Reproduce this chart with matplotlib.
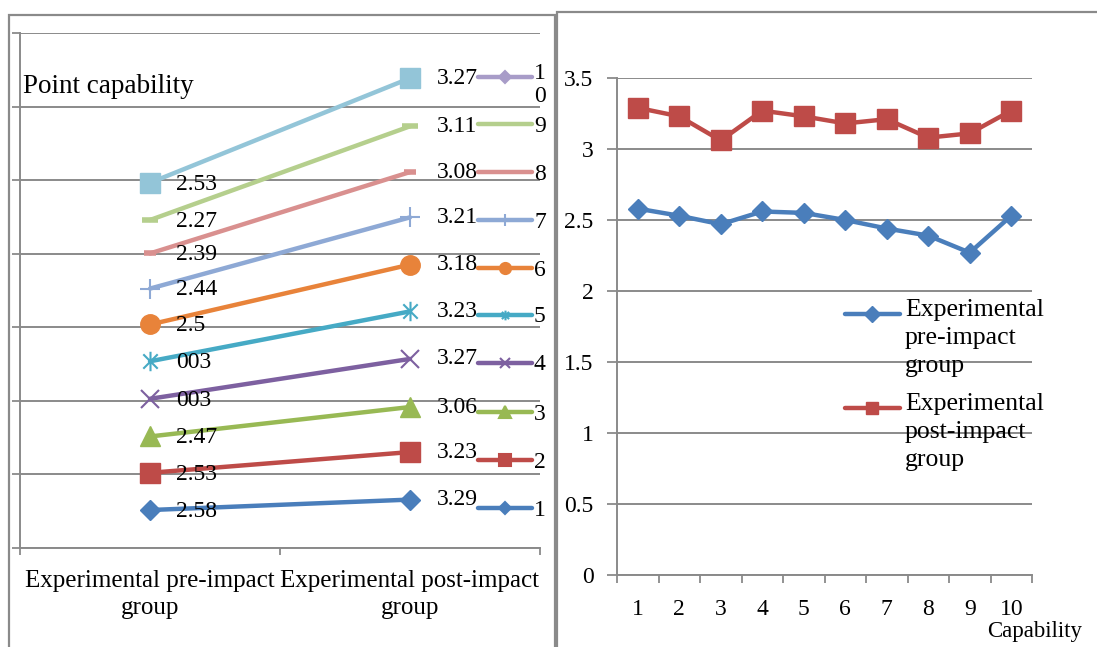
import numpy as np
import matplotlib
matplotlib.use('Agg')
import matplotlib.pyplot as plt
from matplotlib.lines import Line2D
from matplotlib.patches import Rectangle
from matplotlib.path import Path

plt.rcParams['font.family'] = ['Liberation Serif', 'DejaVu Serif']

# ---------------- data ----------------
capability = [1, 2, 3, 4, 5, 6, 7, 8, 9, 10]
pre = [2.58, 2.53, 2.47, 2.56, 2.55, 2.50, 2.44, 2.39, 2.27, 2.53]
post = [3.29, 3.23, 3.06, 3.27, 3.23, 3.18, 3.21, 3.08, 3.11, 3.27]
pre_labels = ['2.58', '2.53', '2.47', '003', '003', '2.5', '2.44', '2.39', '2.27', '2.53']
post_labels = ['3.29', '3.23', '3.06', '3.27', '3.23', '3.18', '3.21', '3.08', '3.11', '3.27']
groups = ['Experimental pre-impact\ngroup', 'Experimental post-impact\ngroup']
series_names = ['1', '2', '3', '4', '5', '6', '7', '8', '9', '1\n0']
legend_right = ['Experimental\npre-impact\ngroup', 'Experimental\npost-impact\ngroup']

# ---------------- styles ----------------
W, H = 1097, 647
GRAY = '#8a8a8a'
ast = Path([(-1, -1), (1, 1), (-1, 1), (1, -1), (0, -1.35), (0, 1.35)],
           [Path.MOVETO, Path.LINETO, Path.MOVETO, Path.LINETO, Path.MOVETO, Path.LINETO])
colors = ['#4A7EBB', '#BE4B48', '#98B954', '#7D60A0', '#46AAC5',
          '#E8833A', '#8EA9D5', '#D9908F', '#B5CF8D', '#93C5D8']
leg_colors = colors[:9] + ['#A89CC8']
markers = ['D', 's', '^', 'x', ast, 'o', '+', '_', '_', 's']
msizes = [10, 14, 14, 13, 14, 14, 14, 8, 11, 14]
mews = [1, 1, 1, 1.5, 1.5, 1, 1.5, 4, 4, 1]
leg_markers = ['D', 's', '^', 'x', ast, 'o', '+', None, None, 'D']
leg_ms = [6, 8, 8, 7, 7, 8, 8, 0, 0, 6]

fig = plt.figure(figsize=(W / 100, H / 100), dpi=100)


def fx(px):
    return px / W


def fy(py):
    return 1 - py / H


# borders
fig.add_artist(Rectangle((fx(9), -0.02), fx(555) - fx(9), fy(15) + 0.02, fill=False,
                         edgecolor=GRAY, lw=1.6, transform=fig.transFigure, clip_on=False))
fig.add_artist(Rectangle((fx(557), -0.02), 1.0, fy(12) + 0.02, fill=False,
                         edgecolor=GRAY, lw=1.6, transform=fig.transFigure, clip_on=False))

# ---------------- left: stacked line chart ----------------
ax1 = fig.add_axes([fx(20), fy(548), fx(540) - fx(20), fy(33) - fy(548)])
stack = np.cumsum(np.array([pre, post]), axis=1)  # shape (2, 10)
xg = np.arange(len(groups))
for i in range(len(series_names)):
    mfc = 'none' if markers[i] is ast else colors[i]
    ax1.plot(xg, stack[:, i], color=colors[i], lw=3.2, marker=markers[i],
             ms=msizes[i], mew=mews[i], mec=colors[i], mfc=mfc,
             solid_capstyle='round', zorder=3, clip_on=False)
    ax1.annotate(pre_labels[i], (xg[0], stack[0, i]), xytext=(19, -1),
                 textcoords='offset points', ha='left', va='center', fontsize=17, zorder=4)
    ax1.annotate(post_labels[i], (xg[1], stack[1, i]), xytext=(19, 0),
                 textcoords='offset points', ha='left', va='center', fontsize=17, zorder=4)

ax1.set_xlim(-0.5, 1.5)
ax1.set_ylim(0, 35)
ax1.set_yticks(np.arange(0, 36, 5))
ax1.set_yticklabels([])
ax1.set_xticks([-0.5, 0.5, 1.5])
ax1.set_xticklabels([])
ax1.set_xticks(xg, minor=True)
ax1.set_xticklabels(groups, minor=True, fontsize=18, linespacing=1.3)
ax1.tick_params(axis='x', which='minor', length=0, pad=16)
ax1.tick_params(axis='x', which='major', length=5, width=1.3, color=GRAY, direction='out')
ax1.tick_params(axis='y', which='major', length=6, width=1.3, color=GRAY, direction='out')
ax1.grid(axis='y', color=GRAY, lw=1.4)
ax1.set_axisbelow(True)
for s in ['top', 'right']:
    ax1.spines[s].set_visible(False)
for s in ['left', 'bottom']:
    ax1.spines[s].set_color(GRAY)
    ax1.spines[s].set_linewidth(1.4)
ax1.text(0.005, 0.897, 'Point capability', transform=ax1.transAxes,
         fontsize=19.5, ha='left', va='center')

# left legend
leg_y = [508, 460, 412, 363, 315, 268, 220, 172, 124, 77]
for i in range(len(series_names)):
    y = fy(leg_y[i])
    mk = leg_markers[i]
    ln = Line2D([fx(478), fx(532)], [y, y], color=leg_colors[i], lw=3.2,
                solid_capstyle='round', transform=fig.transFigure)
    fig.add_artist(ln)
    if mk is not None:
        mfc = 'none' if mk is ast else leg_colors[i]
        mk_ln = Line2D([fx(505)], [y], marker=mk, ms=leg_ms[i], color=leg_colors[i],
                       mec=leg_colors[i], mfc=mfc, mew=1.5, transform=fig.transFigure)
        fig.add_artist(mk_ln)
    if '\n' in series_names[i]:
        fig.text(fx(534), fy(leg_y[i] - 14), series_names[i], fontsize=17,
                 ha='left', va='top', linespacing=1.15)
    else:
        fig.text(fx(534), fy(leg_y[i] + 2), series_names[i], fontsize=17,
                 ha='left', va='center')

# ---------------- right: line chart ----------------
ax2 = fig.add_axes([fx(617), fy(575), fx(1032) - fx(617), fy(78) - fy(575)])
ax2.plot(capability, pre, color=colors[0], lw=3.2, marker='D', ms=10, zorder=3, clip_on=False)
ax2.plot(capability, post, color=colors[1], lw=3.2, marker='s', ms=14, zorder=3, clip_on=False)
ax2.set_xlim(0.5, 10.5)
ax2.set_ylim(0, 3.5)
ax2.set_yticks(np.arange(0, 3.51, 0.5))
ax2.set_yticklabels(['0', '0.5', '1', '1.5', '2', '2.5', '3', '3.5'], fontsize=17)
ax2.set_xticks(np.arange(0.5, 10.6, 1))
ax2.set_xticklabels([])
ax2.set_xticks(capability, minor=True)
ax2.set_xticklabels([str(c) for c in capability], minor=True, fontsize=17)
ax2.tick_params(axis='x', which='minor', length=0, pad=17)
ax2.tick_params(axis='x', which='major', length=6, width=1.3, color=GRAY, direction='out')
ax2.tick_params(axis='y', which='major', length=7, width=1.3, color=GRAY, direction='out', pad=10)
ax2.grid(axis='y', color=GRAY, lw=1.4)
ax2.set_axisbelow(True)
for s in ['top', 'right']:
    ax2.spines[s].set_visible(False)
for s in ['left', 'bottom']:
    ax2.spines[s].set_color(GRAY)
    ax2.spines[s].set_linewidth(1.4)
fig.text(fx(1082), fy(632), 'Capability', fontsize=16.5, ha='right', va='center')

# right legend
rl_y = [314, 408]
rl_mk = ['D', 's']
rl_ms = [8, 9]
for i in range(2):
    y = fy(rl_y[i])
    fig.add_artist(Line2D([fx(845), fx(900)], [y, y], color=colors[i], lw=3.2,
                          solid_capstyle='round', transform=fig.transFigure))
    fig.add_artist(Line2D([fx(872)], [y], marker=rl_mk[i], ms=rl_ms[i], color=colors[i],
                          transform=fig.transFigure))
    fig.text(fx(905), fy(rl_y[i] - 15), legend_right[i], fontsize=18.5, ha='left',
             va='top', linespacing=1.35)

fig.savefig('out.png', dpi=100, facecolor='white')
